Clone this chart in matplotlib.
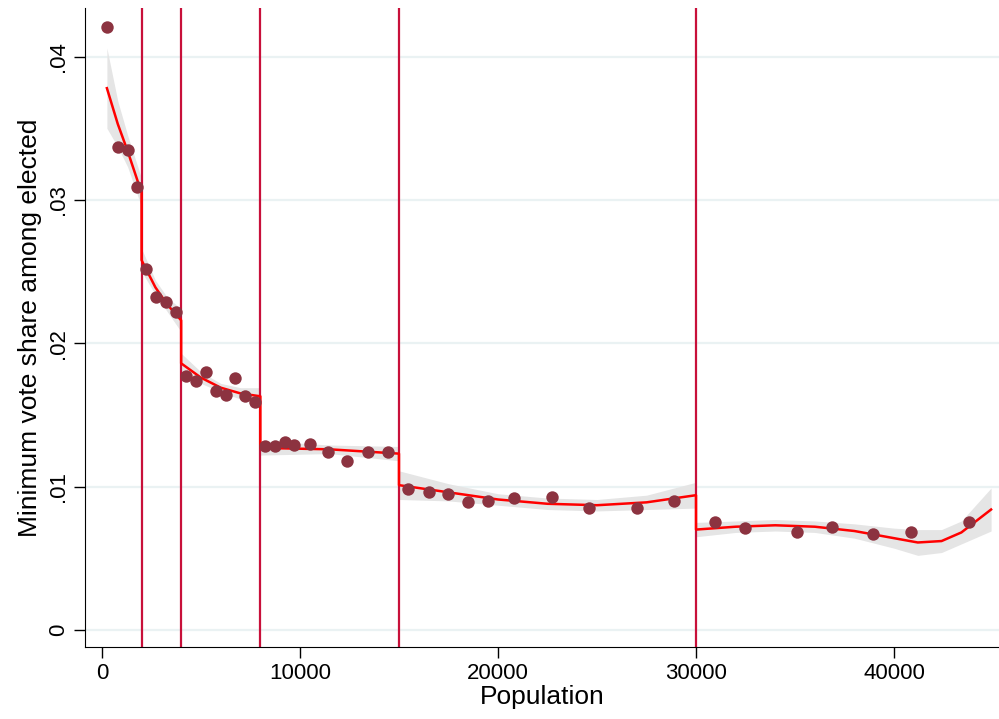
import numpy as np
import matplotlib.pyplot as plt

plt.rcParams['font.family'] = ['Liberation Sans', 'DejaVu Sans']

# binned scatter points
pop = [250, 810, 1310, 1770, 2220, 2730, 3230, 3740, 4240, 4750, 5250, 5760,
       6260, 6720, 7220, 7730, 8230, 8740, 9240, 9700, 10500, 11410, 12370,
       13430, 14440, 15450, 16500, 17470, 18480, 19490, 20800, 22730, 24600,
       27020, 28890, 30960, 32470, 35100, 36870, 38940, 40860, 43790]
share = [0.0421, 0.0337, 0.0335, 0.0309, 0.0252, 0.0232, 0.0229, 0.0222,
         0.0177, 0.0174, 0.0180, 0.0167, 0.0164, 0.0176, 0.0163, 0.0159,
         0.0128, 0.0128, 0.0131, 0.0129, 0.0130, 0.0124, 0.0118, 0.0124,
         0.0124, 0.0098, 0.0096, 0.0095, 0.0089, 0.0090, 0.0092, 0.0093,
         0.0085, 0.0085, 0.0090, 0.0075, 0.0071, 0.0068, 0.0072, 0.0067,
         0.0068, 0.0075]

# fitted lines with CI half widths, one set per segment
fit_x = [[250, 800, 1300, 2000],
         [2000, 2700, 3300, 4000],
         [4000, 5000, 6000, 7000, 8000],
         [8000, 11500, 15000],
         [15000, 17500, 20000, 22500, 25000, 27500, 30000],
         [30000, 32000, 34000, 36000, 38000, 40000, 41200, 42400, 43400, 44900]]
fit_y = [[0.0378, 0.0353, 0.0334, 0.0305],
         [0.0258, 0.0239, 0.0227, 0.0216],
         [0.0186, 0.0176, 0.0169, 0.0165, 0.0163],
         [0.0127, 0.0126, 0.0123],
         [0.0101, 0.0096, 0.0091, 0.0088, 0.0087, 0.0089, 0.0094],
         [0.0070, 0.0072, 0.0073, 0.0072, 0.0069, 0.0064, 0.0061, 0.0062, 0.0068, 0.0084]]
fit_ci = [[0.0028, 0.0016, 0.0011, 0.0010],
          [0.0008, 0.0005, 0.0005, 0.0008],
          [0.0007, 0.0004, 0.0003, 0.0004, 0.0006],
          [0.0005, 0.0003, 0.0005],
          [0.0010, 0.0006, 0.0004, 0.0004, 0.0004, 0.0005, 0.0009],
          [0.0005, 0.0004, 0.0004, 0.0004, 0.0005, 0.0007, 0.0009, 0.0008, 0.0008, 0.0015]]

thresholds = [2000, 4000, 8000, 15000, 30000]

fig = plt.figure(figsize=(9.99, 7.19), dpi=100)
ax = fig.add_axes([0.085, 0.100, 0.915, 0.889])

for yv in [0, 0.01, 0.02, 0.03, 0.04]:
    ax.axhline(yv, color='#eaf2f3', lw=1.6, zorder=0)

for fx, fy, fc in zip(fit_x, fit_y, fit_ci):
    fx = np.array(fx)
    fy = np.array(fy)
    fc = np.array(fc)
    ax.fill_between(fx, fy - fc, fy + fc, color='#e5e5e5', lw=0, zorder=1)

# join the segments with the jumps at thresholds
line_x, line_y = [], []
for fx, fy in zip(fit_x, fit_y):
    line_x += fx
    line_y += fy
ax.plot(line_x, line_y, color='red', lw=1.8, zorder=3)

ax.scatter(pop, share, s=80, color='#8c3340', zorder=4, lw=0)

for t in thresholds:
    ax.axvline(t, color='#c8103a', lw=1.6, zorder=2)

ax.set_xlim(-860, 45300)
ax.set_ylim(-0.0012, 0.0434)
ax.set_xticks([0, 10000, 20000, 30000, 40000])
ax.set_yticks([0, 0.01, 0.02, 0.03, 0.04])
ax.set_yticklabels(['0', '.01', '.02', '.03', '.04'], rotation=90, va='center')
ax.tick_params(labelsize=16, length=8, width=1)
ax.spines['top'].set_visible(False)
ax.spines['right'].set_visible(False)
ax.set_xlabel('Population', fontsize=19, labelpad=1)
ax.set_ylabel('Minimum vote share among elected', fontsize=19, labelpad=4)

fig.savefig('out.png', dpi=100)
